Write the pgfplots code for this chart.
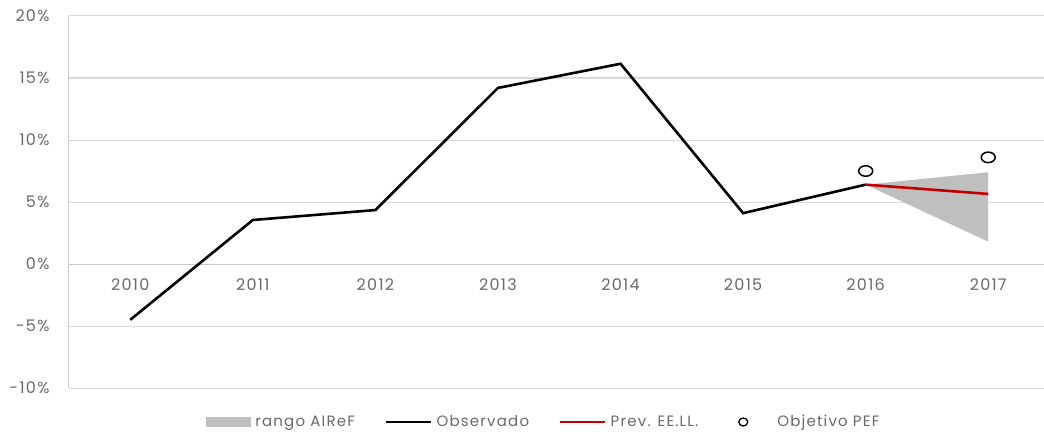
\documentclass[border=0pt]{standalone}
\usepackage{fontspec}
\setmainfont[LetterSpace=8]{Poppins}
\usepackage{pgfplots}
\pgfplotsset{compat=1.18}
\definecolor{tickgray}{RGB}{105,105,105}
\definecolor{gridgray}{RGB}{217,217,217}
\definecolor{axisgray}{RGB}{200,200,200}
\definecolor{areagray}{RGB}{191,191,191}
\definecolor{prevred}{RGB}{192,0,0}
\begin{document}
\begin{tikzpicture}
\begin{axis}[
  scale only axis,
  width=975pt, height=372pt,
  xmin=-0.5, xmax=7.455,
  ymin=-10, ymax=20,
  ytick={-10,-5,0,5,10,15,20},
  xtick={0,1,2,3,4,5,6,7},
  xticklabels={2010,2011,2012,2013,2014,2015,2016,2017},
  axis x line=middle,
  axis y line=left,
  axis line style={-, draw=axisgray, line width=1pt},
  hide obscured x ticks=false,
  hide obscured y ticks=false,
  ymajorgrids,
  grid style={gridgray, line width=1pt},
  major tick length=0pt,
  tick label style={font=\fontsize{16}{19}\selectfont, text=tickgray},
  /pgf/number format/assume math mode=true,
  yticklabel={\pgfmathprintnumber{\tick}\%},
  xticklabel style={yshift=-11pt},
  yticklabel style={xshift=-16pt},
  legend columns=4,
  legend cell align=left,
  legend style={draw=none, at={(0.487,-0.0914)}, anchor=center,
    font=\fontsize{15}{18}\selectfont, text=tickgray,
    /tikz/every even column/.append style={column sep=28pt},
    /tikz/every odd column/.append style={column sep=2pt}},
]
\addplot[fill=areagray, draw=none,
  legend image code/.code={\fill[areagray] (0pt,-5pt) rectangle (45pt,5pt);}]
  coordinates {(6,6.4) (7,7.4) (7,1.8)} -- cycle;
\addlegendentry{rango AIReF}
\addplot[black, line width=2.6pt, mark=none,
  legend image code/.code={\draw[black, line width=2.6pt] (0pt,0pt) -- (45pt,0pt);}]
  coordinates {(0,-4.5) (1,3.55) (2,4.35) (3,14.2) (4,16.15) (5,4.1) (6,6.4)};
\addlegendentry{Observado}
\addplot[prevred, line width=2.6pt, mark=none,
  legend image code/.code={\draw[prevred, line width=2.6pt] (0pt,0pt) -- (45pt,0pt);}]
  coordinates {(6,6.4) (7,5.65)};
\addlegendentry{Prev. EE.LL.}
\addplot[only marks, mark=o, mark size=7pt, mark options={black, line width=1.5pt, yscale=0.75},
  legend image code/.code={\path[draw=none, fill=none] (0pt,-1pt) rectangle (45pt,1pt); \draw[black, line width=1.3pt] (15pt,0pt) ellipse (4.5pt and 4pt);}]
  coordinates {(6,7.5) (7,8.6)};
\addlegendentry{Objetivo PEF}
\end{axis}
\pgfresetboundingbox
\useasboundingbox (-69pt,-46pt) rectangle (975pt,388pt);
\end{tikzpicture}
\end{document}
